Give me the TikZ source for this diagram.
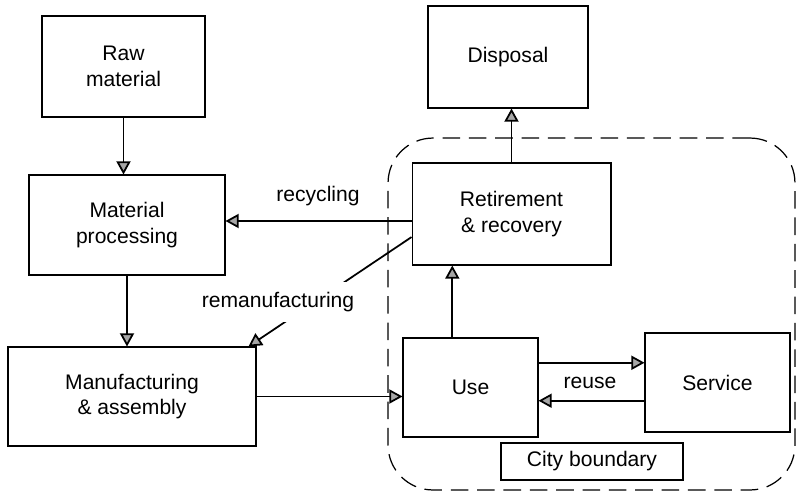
\documentclass[tikz,border=0pt]{standalone}
\usepackage{fontspec}
\setmainfont{Liberation Sans}
\usepackage{tikz}
\usetikzlibrary{arrows.meta}

\begin{document}
\begin{tikzpicture}[
        x=0.02cm, y=-0.02cm,
        every node/.style={font=\fontsize{12}{14.5}\selectfont},
        box/.style={draw, line width=0.6pt, align=center, inner sep=0pt},
        arrow/.style={-{Triangle[length=7.5pt, width=8pt, fill=gray!70]}, line width=1pt},
        boundary/.style={draw, dashed, dash pattern=on 10pt off 5pt, line width=0.7pt, rounded corners=0.9cm, inner sep=0pt},
        lbl/.style={inner sep=1pt}
      ]
        \useasboundingbox (0,0) rectangle (797,498);

        % City boundary (dashed)
        \node[boundary, minimum width=8.14cm, minimum height=7.04cm] (bound) at (591.5,314) {};

        \node[box, minimum width=3.26cm, minimum height=2.02cm] (raw) at (123.5,66.5) {Raw\\material};
        \node[box, minimum width=3.92cm, minimum height=2.00cm] (proc) at (127,225) {Material\\processing};
        \node[box, minimum width=4.96cm, minimum height=1.98cm] (manu) at (132,396.5) {Manufacturing\\\& assembly};
        \node[box, minimum width=3.20cm, minimum height=2.04cm] (disp) at (508,57) {Disposal};
        \node[box, minimum width=3.98cm, minimum height=2.04cm] (retire) at (511.5,214) {Retirement\\\& recovery};
        \node[box, minimum width=2.70cm, minimum height=1.98cm] (use) at (470.5,387.5) {Use};
        \node[box, minimum width=2.90cm, minimum height=1.98cm] (serv) at (717.5,382.5) {Service};
        \node[box, minimum width=3.64cm, minimum height=0.74cm] (city) at (592,461.5) {City boundary};

        % Forward flow
        \draw[arrow] (raw.south) -- (raw.south |- proc.north);
        \draw[arrow] (proc.south) -- (proc.south |- manu.north);
        \draw[arrow] (manu.east) -- (manu.east -| use.west);
        \draw[arrow] (use.110) -- (use.110 |- retire.south);
        \draw[arrow] (retire.north) -- (retire.north |- disp.south);

        % Loops back
        \draw[arrow] (retire.184) -- (retire.184 -| proc.east);
        \draw[arrow] (retire.193) -- ([xshift=-0.16cm]manu.north east);
        \draw[arrow] (use.20) -- (use.20 -| serv.west);
        \draw[arrow] (serv.west |- use.-11) -- (use.-11);

        \node[lbl] (reclbl) at (318,196) {recycling};
        \node[lbl, fill=white, inner ysep=6pt] (remanlbl) at (278,302) {remanufacturing};
        \node[lbl] (reuselbl) at (590,383) {reuse};

    \end{tikzpicture}
\end{document}
